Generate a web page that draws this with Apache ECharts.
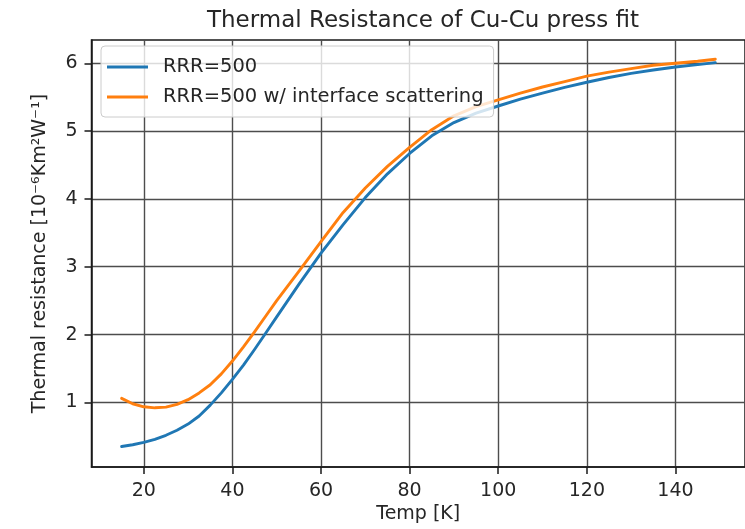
<!DOCTYPE html>
<html>
<head>
<meta charset="utf-8">
<script src="https://cdn.jsdelivr.net/npm/echarts@6/dist/echarts.min.js"></script>
<style>
  html, body { margin: 0; padding: 0; background: #ffffff; }
  #chart { width: 745px; height: 529px; }
</style>
</head>
<body>
<div id="chart"></div>
<script>
// Temperature samples [K]
const temps = [15, 17.5, 20, 22.5, 25, 27.5, 30, 32.5, 35, 37.5, 40, 42.5, 45, 47.5, 50, 55, 60, 65, 70,
               75, 80, 85, 90, 95, 100, 105, 110, 115, 120, 125, 130, 135, 140, 145, 149];
// Thermal resistance [1e-6 K m^2 / W], bulk RRR=500 copper
const rrr500 = [0.35, 0.375, 0.41, 0.455, 0.515, 0.59, 0.68, 0.80, 0.96, 1.14, 1.34, 1.55, 1.78, 2.02,
                2.26, 2.74, 3.20, 3.62, 4.02, 4.37, 4.67, 4.93, 5.125, 5.265, 5.37, 5.47, 5.56, 5.645,
                5.72, 5.79, 5.85, 5.90, 5.945, 5.98, 6.01];
// Same, including interface scattering
const rrr500Interface = [1.06, 0.98, 0.935, 0.92, 0.93, 0.97, 1.04, 1.14, 1.26, 1.42, 1.61, 1.82, 2.04,
                         2.27, 2.50, 2.93, 3.37, 3.80, 4.16, 4.48, 4.76, 5.02, 5.225, 5.36, 5.46, 5.56,
                         5.65, 5.73, 5.81, 5.87, 5.92, 5.97, 6.00, 6.03, 6.06];
const xTicks = [20, 40, 60, 80, 100, 120, 140];
const yTicks = [1, 2, 3, 4, 5, 6];
const seriesNames = ['RRR=500', 'RRR=500 w/ interface scattering'];

const FONT = 'DejaVu Sans';
const INK = '#1a1a1a';

function pairs(xs, ys) { return xs.map((x, i) => [x, ys[i]]); }

const chart = echarts.init(document.getElementById('chart'), null, { renderer: 'canvas' });

const axisCommon = {
  type: 'value',
  axisLine: { show: true, onZero: false, lineStyle: { color: INK, width: 1.5 } },
  axisTick: { show: true, inside: false, length: 7, lineStyle: { color: INK, width: 1.5 } },
  splitLine: { show: true, lineStyle: { color: '#4d4d4d', width: 1.4 } },
  axisLabel: { color: '#262626', fontFamily: FONT, fontSize: 19, margin: 14 },
  nameTextStyle: { color: '#262626', fontFamily: FONT, fontSize: 19 }
};

chart.setOption({
  animation: false,
  backgroundColor: '#ffffff',
  title: {
    text: 'Thermal Resistance of Cu-Cu press fit',
    left: 418, top: 5, textAlign: 'center',
    textStyle: { fontFamily: FONT, fontSize: 23, fontWeight: 'normal', color: '#262626' }
  },
  grid: {
    left: 91.5, top: 40, width: 655, height: 427.5,
    show: true, borderColor: INK, borderWidth: 1.5, backgroundColor: 'transparent'
  },
  legend: {
    orient: 'vertical', left: 101, top: 46,
    data: seriesNames,
    icon: 'rect', itemWidth: 41, itemHeight: 3, itemGap: 10,
    padding: [11, 10, 10, 6],
    backgroundColor: 'rgba(255,255,255,0.8)',
    borderColor: '#cccccc', borderWidth: 1, borderRadius: 4,
    textStyle: { fontFamily: FONT, fontSize: 19.5, lineHeight: 19, color: '#262626', padding: [0, 0, 0, 10] },
    z: 10
  },
  xAxis: Object.assign({}, axisCommon, {
    min: 8.2, max: 155.7,
    name: 'Temp [K]', nameLocation: 'middle', nameGap: 37,
    axisTick: Object.assign({}, axisCommon.axisTick, { customValues: xTicks }),
    axisLabel: Object.assign({}, axisCommon.axisLabel, { customValues: xTicks })
  }),
  yAxis: Object.assign({}, axisCommon, {
    min: 0.046, max: 6.343,
    name: 'Thermal resistance [10\u207B\u2076Km\u00B2W\u207B\u00B9]', nameLocation: 'middle', nameGap: 42,
    axisTick: Object.assign({}, axisCommon.axisTick, { customValues: yTicks }),
    axisLabel: Object.assign({}, axisCommon.axisLabel, { customValues: yTicks })
  }),
  series: [
    {
      name: seriesNames[0], type: 'line', data: pairs(temps, rrr500),
      showSymbol: false, smooth: false,
      color: '#1f77b4', lineStyle: { color: '#1f77b4', width: 2.9, join: 'round', cap: 'round' }
    },
    {
      name: seriesNames[1], type: 'line', data: pairs(temps, rrr500Interface),
      showSymbol: false, smooth: false,
      color: '#ff7f0e', lineStyle: { color: '#ff7f0e', width: 2.9, join: 'round', cap: 'round' }
    }
  ]
});
</script>
</body>
</html>
